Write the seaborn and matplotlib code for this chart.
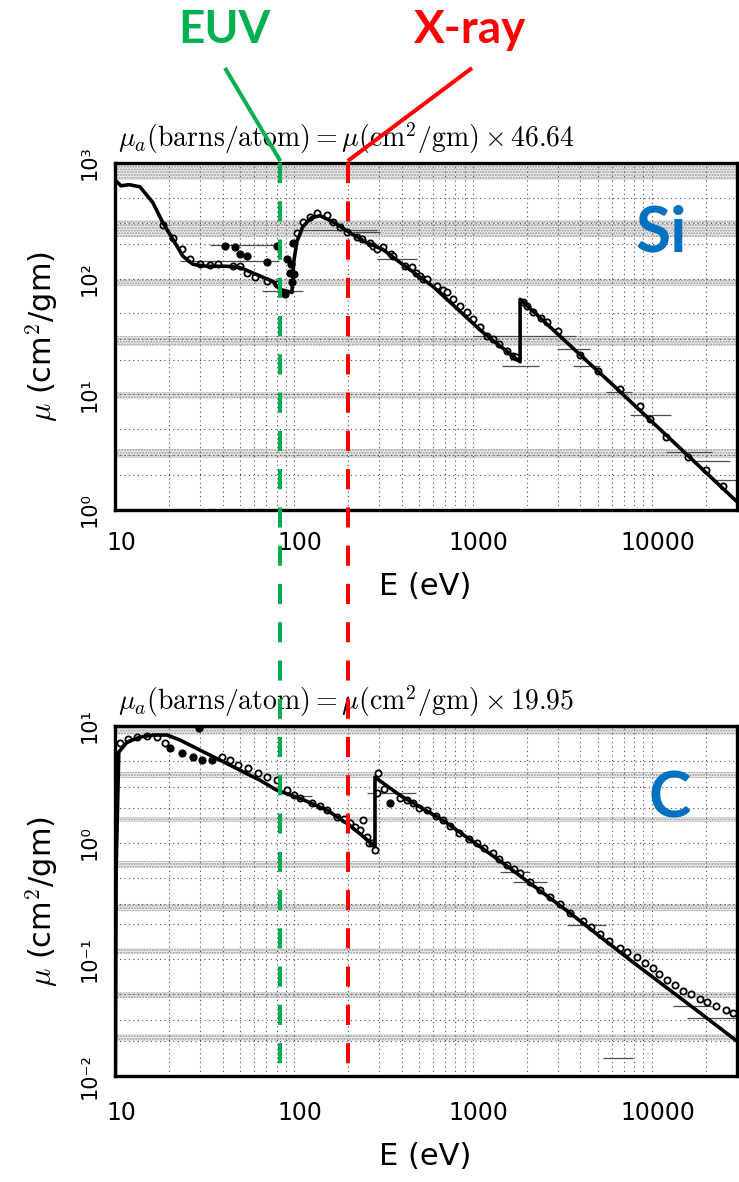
import matplotlib
matplotlib.use("Agg")
import matplotlib.pyplot as plt
import seaborn as sns
from matplotlib.lines import Line2D
from matplotlib.ticker import LogLocator, NullFormatter
from matplotlib.transforms import ScaledTranslation

sns.set_theme(style="white")
plt.rcParams["font.family"] = ["DejaVu Sans"]
plt.rcParams["mathtext.fontset"] = "cm"
plt.rcParams["hatch.linewidth"] = 1.0
plt.rcParams["text.color"] = "black"
plt.rcParams["axes.labelcolor"] = "black"
plt.rcParams["xtick.color"] = "black"
plt.rcParams["ytick.color"] = "black"

# ---------------- Silicon ----------------
si_curve_E = [10, 10.8, 12.0, 13.8, 16.3, 18.5, 21.1, 24.0, 27.3, 32.7, 42.3, 49.9,
              76.2, 83.5, 97.5, 99.8, 104, 112, 125, 140, 165, 205, 255, 314, 392,
              597, 1135, 1839, 1839, 6310, 29800]
si_curve_mu = [714, 635, 650, 622, 453, 305, 218, 156, 133, 128, 128, 125,
               94.8, 80.9, 76, 140, 210, 280, 335, 350, 310, 250, 205, 179, 138,
               86, 34.5, 19.1, 66.3, 11.4, 1.19]

si_open_E = [18.5, 21.1, 23.7, 26.2, 29.8, 34.0, 37.6, 45.6, 49.9, 54.6, 60.4, 70.6, 80.5,
             104, 112, 123, 134, 153, 165, 181, 198, 225, 240, 265, 276, 291, 314, 350, 357,
             420, 456, 480, 506, 530, 553, 630, 680, 716, 773, 850, 925, 1000, 1100, 1197,
             1294, 1400, 1549, 1671, 1750, 1900, 2005, 2163, 2400, 2588, 3000, 4000, 5000,
             6622, 8570, 9750, 12000, 16000, 20000, 25000]
si_open_mu = [293, 226, 179, 147, 133, 130, 133, 128, 128, 113, 103, 94.8, 89.3,
              250, 311, 343, 372, 357, 311, 282, 255, 231, 222, 205, 190, 179, 186, 165, 156,
              128, 125, 112, 105, 100, 98.6, 85.9, 80, 76.2, 66.4, 58, 51.3, 44.7, 38, 31.9,
              30.0, 27, 23.7, 21.5, 21, 63, 57.8, 51.3, 46, 42.1, 35, 22, 16,
              11.2, 7.98, 6.17, 4.3, 2.9, 2.2, 1.6]

si_fill_E = [41.2, 46.8, 49.9, 54.6, 70.6, 80.5, 89.1, 91.4, 95.0, 96.2, 97.5, 98.7, 100]
si_fill_mu = [190, 186, 162, 156, 138, 190, 73.3, 147, 113, 133, 92.9, 205, 109]

si_bar_lo = [34, 23, 66.5, 108, 213, 291, 1000, 1460, 2160, 2960, 3620, 5530, 7560, 12100, 17000, 21800]
si_bar_hi = [80, 83, 112, 291, 302, 489, 2160, 2350, 3800, 4520, 5120, 7800, 12800, 21800, 27300, 29800]
si_bar_mu = [195, 141, 78, 266, 255, 147, 31.9, 17.6, 31.9, 24.9, 17.6, 10.5, 6.6, 3.2, 2.65, 1.8]

si_bands = [(720, 1000), (231, 324), (86, 98.6), (26.1, 31.9), (9.2, 10.5), (2.8, 3.4)]

# ---------------- Carbon ----------------
c_curve_E = [10.05, 10.15, 10.5, 11.7, 13.8, 16.3, 19.5, 23.1, 29.8, 38.6, 49.9, 64.6, 80.5,
             108, 153, 205, 284, 284, 391, 679, 1416, 3350, 7830, 18530, 29850]
c_curve_mu = [0.0105, 0.6, 5.98, 7.29, 8.04, 8.37, 8.37, 7.58, 6.22, 5.10, 4.19, 3.43, 2.81,
              2.40, 1.90, 1.41, 0.93, 3.64, 2.55, 1.56, 0.70, 0.262, 0.095, 0.035, 0.020]

c_open_E = [10.7, 11.8, 13.3, 15.1, 17.2, 19.0, 39.6, 44.0, 48.6, 55.4, 63.1, 70.6, 80.5, 91.4,
            100, 108, 127, 140, 153, 174, 190, 205, 220, 233, 242, 255, 262, 273, 284, 291,
            294, 320, 391, 430, 464, 500, 553, 620, 679, 750, 843, 950, 1050, 1150, 1294,
            1400, 1549, 1700, 1836, 2100, 2390, 2700, 3060, 3500, 4120, 4600, 5120, 5800,
            6620, 7300, 8270, 9200, 10200, 11000, 12130, 13500, 14900, 16500, 18530, 20500,
            23000, 26000, 28400]
c_open_mu = [7.14, 7.73, 8.04, 8.20, 8.04, 7.14, 5.41, 5.10, 4.62, 4.36, 3.95, 3.64, 3.43, 2.81,
             2.55, 2.40, 2.19, 2.05, 1.90, 1.65, 1.6, 1.46, 1.35, 1.28, 1.56, 1.11, 1.0, 0.99,
             0.86, 2.66, 3.95, 2.9, 2.40, 2.3, 2.19, 2.0, 1.90, 1.7, 1.56, 1.38, 1.21, 1.08,
             0.99, 0.9, 0.81, 0.72, 0.64, 0.6, 0.55, 0.46, 0.39, 0.34, 0.30, 0.25, 0.215, 0.19,
             0.165, 0.145, 0.126, 0.115, 0.104, 0.093, 0.085, 0.075, 0.066, 0.06, 0.054, 0.05,
             0.046, 0.043, 0.040, 0.037, 0.035]

c_fill_E = [20.3, 23.7, 27.3, 30.6, 34.8, 29.5, 344]
c_fill_mu = [6.47, 5.86, 5.41, 5.10, 5.10, 9.6, 2.18]

c_bar_lo = [108, 255, 1416, 1670, 3350, 13100, 15700, 5340]
c_bar_hi = [127, 484, 2080, 2590, 5530, 21800, 29800, 7830]
c_bar_mu = [2.5, 2.66, 0.56, 0.46, 0.195, 0.040, 0.0315, 0.0142]

c_bands = [(8.4, 9.6), (3.6, 4.0), (1.5, 1.65), (0.61, 0.70), (0.26, 0.30),
           (0.112, 0.126), (0.047, 0.053), (0.020, 0.023)]

# ---------------- Axis text ----------------
x_ticks = [10, 100, 1000, 10000]
x_ticklabels = ["10", "100", "1000", "10000"]
si_yticks = [1, 10, 100, 1000]
si_yticklabels = ["10\u2070", "10\u00b9", "10\u00b2", "10\u00b3"]
c_yticks = [0.01, 0.1, 1, 10]
c_yticklabels = ["10\u207b\u00b2", "10\u207b\u00b9", "10\u2070", "10\u00b9"]

si_title = r"$\mu_a(\mathrm{barns/atom}) = \mu(\mathrm{cm}^2/\mathrm{gm}) \times 46.64$"
c_title = r"$\mu_a(\mathrm{barns/atom}) = \mu(\mathrm{cm}^2/\mathrm{gm}) \times 19.95$"

EUV_E = 84
XRAY_E = 200

GREEN = "#00B050"
RED = "#FF0000"
BLUE = "#0070C0"

W, H = 739, 1182
fig = plt.figure(figsize=(W / 100, H / 100), dpi=100)


def px_rect(left, top, right, bottom):
    return [left / W, 1 - bottom / H, (right - left) / W, (bottom - top) / H]


ax1 = fig.add_axes(px_rect(115, 163, 737, 510))
ax2 = fig.add_axes(px_rect(115, 726, 737, 1076))


def draw_panel(ax, curve_E, curve_mu, open_E, open_mu, fill_E, fill_mu,
               bar_lo, bar_hi, bar_mu, bands, ylim, yticks, yticklabels,
               title, element, elem_xy, tick_pad, xlabel_y):
    ax.set_xscale("log")
    ax.set_yscale("log")
    ax.set_xlim(10, 30000)
    ax.set_ylim(*ylim)

    # stippled background bands
    for lo, hi in bands:
        ax.axhspan(lo, hi, facecolor="0.93", edgecolor="0.6", hatch="......",
                   linewidth=0, zorder=0)

    ax.xaxis.set_minor_locator(LogLocator(base=10, subs=[2, 3, 4, 5, 6, 7, 8, 9], numticks=20))
    ax.yaxis.set_minor_locator(LogLocator(base=10, subs=[2, 3, 5], numticks=20))
    ax.xaxis.set_minor_formatter(NullFormatter())
    ax.yaxis.set_minor_formatter(NullFormatter())
    ax.grid(which="both", linestyle=(0, (1, 3)), color="0.3", linewidth=0.8, zorder=0)

    ax.hlines(bar_mu, bar_lo, bar_hi, color="0.3", linewidth=0.9, zorder=2)

    sns.scatterplot(x=open_E, y=open_mu, ax=ax, marker="o", s=20, color="white",
                    edgecolor="black", linewidth=1.3, zorder=3, legend=False)
    sns.scatterplot(x=fill_E, y=fill_mu, ax=ax, marker="o", s=26, color="black",
                    edgecolor="black", linewidth=0.8, zorder=3, legend=False)
    sns.lineplot(x=curve_E, y=curve_mu, ax=ax, sort=False, estimator=None,
                 color="black", linewidth=2.6, zorder=4)

    for s in ax.spines.values():
        s.set_visible(True)
        s.set_color("black")
        s.set_linewidth(2.4)

    ax.set_xticks(x_ticks, labels=x_ticklabels)
    ax.set_yticks(yticks, labels=yticklabels)
    ax.tick_params(axis="both", which="both", length=0)
    ax.tick_params(axis="x", labelsize=17, pad=tick_pad)
    ax.tick_params(axis="y", labelsize=15, pad=11)
    for lab in ax.get_yticklabels():
        lab.set_rotation(90)
        lab.set_va("center")
    shift = ScaledTranslation(6 / 100, 0, fig.dpi_scale_trans)
    for lab in ax.get_xticklabels():
        lab.set_transform(lab.get_transform() + shift)

    ax.set_xlabel("E (eV)", fontsize=22)
    ax.xaxis.set_label_coords(0.498, xlabel_y)
    ax.set_ylabel(r"$\mu$ (cm$^2$/gm)", fontsize=22)
    ax.yaxis.set_label_coords(-0.088, 0.5)

    ax.text(0.005, 1.072, title, transform=ax.transAxes,
            ha="left", va="center", fontsize=20)
    ax.text(elem_xy[0], elem_xy[1], element, transform=ax.transAxes, ha="center",
            va="center", fontsize=46, fontweight="bold", color=BLUE, family="Lato")


draw_panel(ax1, si_curve_E, si_curve_mu, si_open_E, si_open_mu, si_fill_E, si_fill_mu,
           si_bar_lo, si_bar_hi, si_bar_mu, si_bands, (1, 1000), si_yticks, si_yticklabels,
           si_title, "Si", (0.879, 0.798), 15, -0.179)
draw_panel(ax2, c_curve_E, c_curve_mu, c_open_E, c_open_mu, c_fill_E, c_fill_mu,
           c_bar_lo, c_bar_hi, c_bar_mu, c_bands, (0.01, 10), c_yticks, c_yticklabels,
           c_title, "C", (0.892, 0.791), 18, -0.189)


# EUV / X-ray markers spanning both panels
def fig_x(ax, energy):
    disp = ax.transData.transform((energy, ax.get_ylim()[0]))
    return fig.transFigure.inverted().transform(disp)[0]


y_top = ax1.get_position().y1
y_bot = ax2.get_position().y0
for energy, color, label, label_x, elbow_x in [(EUV_E, GREEN, "EUV", 224, 225),
                                               (XRAY_E, RED, "X-ray", 470, 472)]:
    xf = fig_x(ax1, energy)
    fig.add_artist(Line2D([xf, xf], [y_top, y_bot], transform=fig.transFigure, color=color,
                          linewidth=2.9, linestyle=(0, (5, 4.5)), zorder=10))
    fig.add_artist(Line2D([elbow_x / W, xf], [1 - 68 / H, y_top + 2 / H],
                          transform=fig.transFigure, color=color, linewidth=2.9,
                          solid_capstyle="butt", zorder=10))
    fig.text(label_x / W, 1 - 43 / H, label, ha="center", va="baseline", fontsize=33,
             fontweight="bold", color=color, family="Lato")

fig.savefig("out.png", dpi=100)
